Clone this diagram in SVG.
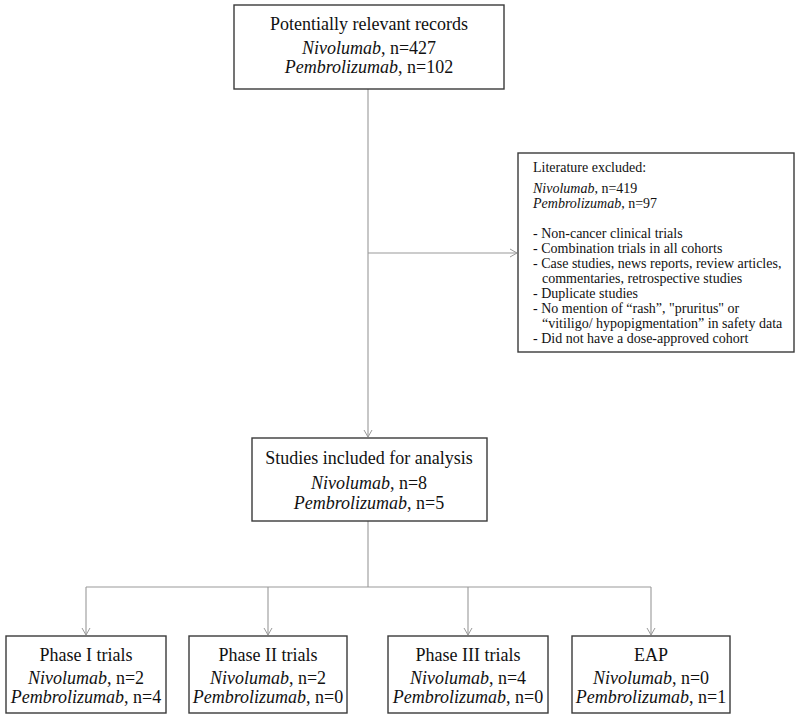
<svg xmlns="http://www.w3.org/2000/svg" width="800" height="719" viewBox="0 0 800 719">
<style>
.box{fill:#fff;stroke:#3a3a3a;stroke-width:1.4}
.t{font-family:"Liberation Serif","Times New Roman",serif;font-size:18px;fill:#111;text-anchor:middle}
.s{font-family:"Liberation Serif","Times New Roman",serif;font-size:14px;fill:#111}
.i{font-style:italic}
.c{fill:none;stroke:#999;stroke-width:1.1}
</style>
<defs>
<marker id="ah" markerWidth="10" markerHeight="10" refX="8" refY="5" orient="auto" markerUnits="userSpaceOnUse">
<path d="M1,1 L8,5 L1,9" fill="none" stroke="#999" stroke-width="1"/>
</marker>
</defs>
<rect width="800" height="719" fill="#fff"/>
<g id="connectors">
<line class="c" x1="368" y1="89" x2="368" y2="437" marker-end="url(#ah)"/>
<line class="c" x1="368" y1="253" x2="517" y2="253" marker-end="url(#ah)"/>
<line class="c" x1="368" y1="521" x2="368" y2="587"/>
<line class="c" x1="86" y1="587" x2="651" y2="587"/>
<line class="c" x1="86" y1="587" x2="86" y2="635" marker-end="url(#ah)"/>
<line class="c" x1="268" y1="587" x2="268" y2="635" marker-end="url(#ah)"/>
<line class="c" x1="468" y1="587" x2="468" y2="635" marker-end="url(#ah)"/>
<line class="c" x1="651" y1="587" x2="651" y2="635" marker-end="url(#ah)"/>
</g>
<g id="records">
<rect class="box" x="234" y="5" width="270" height="84"/>
<text class="t" x="369" y="30">Potentially relevant records</text>
<text class="t" x="369" y="54"><tspan class="i">Nivolumab</tspan>, n=427</text>
<text class="t" x="369" y="73"><tspan class="i">Pembrolizumab</tspan>, n=102</text>
</g>
<g id="excluded">
<rect class="box" x="518" y="153" width="276" height="199"/>
<text class="s" x="533" y="172">Literature excluded:</text>
<text class="s" x="533" y="193"><tspan class="i">Nivolumab</tspan>, n=419</text>
<text class="s" x="533" y="208"><tspan class="i">Pembrolizumab</tspan>, n=97</text>
<text class="s" x="533" y="238">- Non-cancer clinical trials</text>
<text class="s" x="533" y="253">- Combination trials in all cohorts</text>
<text class="s" x="533" y="268">- Case studies, news reports, review articles,</text>
<text class="s" x="542" y="283">commentaries, retrospective studies</text>
<text class="s" x="533" y="298">- Duplicate studies</text>
<text class="s" x="533" y="313">- No mention of “rash”, "pruritus" or</text>
<text class="s" x="542" y="328">“vitiligo/ hypopigmentation” in safety data</text>
<text class="s" x="533" y="343">- Did not have a dose-approved cohort</text>
</g>
<g id="included">
<rect class="box" x="252" y="438" width="235" height="83"/>
<text class="t" x="369" y="464">Studies included for analysis</text>
<text class="t" x="369" y="489"><tspan class="i">Nivolumab</tspan>, n=8</text>
<text class="t" x="369" y="509"><tspan class="i">Pembrolizumab</tspan>, n=5</text>
</g>
<g id="phase1">
<rect class="box" x="6" y="636" width="160" height="77"/>
<text class="t" x="86" y="661">Phase I trials</text>
<text class="t" x="86" y="684"><tspan class="i">Nivolumab</tspan>, n=2</text>
<text class="t" x="86" y="703"><tspan class="i">Pembrolizumab</tspan>, n=4</text>
</g>
<g id="phase2">
<rect class="box" x="189" y="636" width="158" height="77"/>
<text class="t" x="268" y="661">Phase II trials</text>
<text class="t" x="268" y="684"><tspan class="i">Nivolumab</tspan>, n=2</text>
<text class="t" x="268" y="703"><tspan class="i">Pembrolizumab</tspan>, n=0</text>
</g>
<g id="phase3">
<rect class="box" x="388" y="636" width="160" height="77"/>
<text class="t" x="468" y="661">Phase III trials</text>
<text class="t" x="468" y="684"><tspan class="i">Nivolumab</tspan>, n=4</text>
<text class="t" x="468" y="703"><tspan class="i">Pembrolizumab</tspan>, n=0</text>
</g>
<g id="eap">
<rect class="box" x="572" y="636" width="158" height="77"/>
<text class="t" x="651" y="661">EAP</text>
<text class="t" x="651" y="684"><tspan class="i">Nivolumab</tspan>, n=0</text>
<text class="t" x="651" y="703"><tspan class="i">Pembrolizumab</tspan>, n=1</text>
</g>
</svg>
